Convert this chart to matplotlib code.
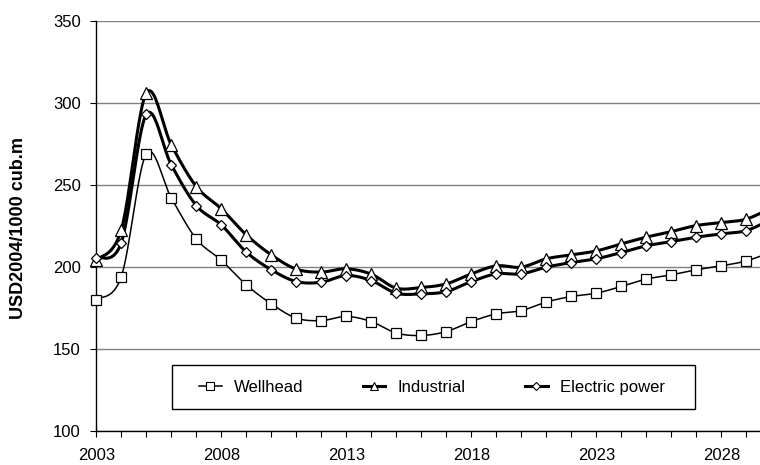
import numpy as np
import matplotlib
matplotlib.use("Agg")
import matplotlib.pyplot as plt
from matplotlib.patches import Rectangle
from matplotlib.lines import Line2D

plt.rcParams['font.family'] = ['Liberation Sans', 'DejaVu Sans']

years = list(range(2003, 2031))
wellhead = [180, 194, 269, 242, 217, 204, 189, 177.4, 168.7, 167.2, 169.7, 166.6, 159.6, 158.1,
            160.5, 166.6, 171.3, 173.3, 178.5, 181.9, 183.9, 188, 192.5, 195.1, 198.2, 200.6, 203.6, 209]
industrial = [204, 222.6, 306, 274.4, 249, 235.4, 219.5, 207.3, 198.6, 196.8, 198.8, 195.5, 187, 187.4,
              189.6, 195.7, 200.6, 199.8, 204.9, 207.3, 209.7, 214, 218.1, 221.5, 225.2, 227, 229.1, 236]
electric = [205.5, 214.8, 293, 262.2, 237.4, 225.6, 209, 198.2, 191, 190.6, 194.7, 191.6, 183.9, 183.5,
            184.9, 191, 195.7, 195.7, 199.8, 202.6, 204.9, 208.7, 212.8, 215.4, 218.1, 220.1, 222.1, 229]
labels = ["Wellhead", "Industrial", "Electric power"]
y_label = "USD2004/1000 cub.m"
xtick_labels = [2003, 2008, 2013, 2018, 2023, 2028]
yticks = [100, 150, 200, 250, 300, 350]


def smooth(x, y, n=24):
    # Catmull-Rom smoothing (Excel "smoothed line" look)
    x = np.asarray(x, float)
    y = np.asarray(y, float)
    px = np.concatenate([[x[0]], x, [x[-1]]])
    py = np.concatenate([[y[0]], y, [y[-1]]])
    xs, ys = [], []
    t = np.linspace(0, 1, n, endpoint=False)
    for i in range(1, len(px) - 2):
        p0, p1, p2, p3 = (np.array([px[j], py[j]]) for j in (i - 1, i, i + 1, i + 2))
        c1 = p1 + (p2 - p0) / 6.0
        c2 = p2 - (p3 - p1) / 6.0
        b = ((1 - t) ** 3)[:, None] * p1 + (3 * (1 - t) ** 2 * t)[:, None] * c1 + \
            (3 * (1 - t) * t ** 2)[:, None] * c2 + (t ** 3)[:, None] * p2
        xs.extend(b[:, 0]); ys.extend(b[:, 1])
    xs.append(x[-1]); ys.append(y[-1])
    return np.array(xs), np.array(ys)


fig = plt.figure(figsize=(7.6, 4.65), dpi=100)
ax = fig.add_axes([96.3 / 760, 1 - 430.7 / 465, 1 - 96.3 / 760, 409.7 / 465])

styles = [
    dict(series=wellhead, marker='s', lw=1.1, ms=7, color='black'),
    dict(series=industrial, marker='^', lw=2.2, ms=8, color='black'),
    dict(series=electric, marker='D', lw=2.2, ms=5.5, color='black'),
]
handles = []
for st, lab in zip(styles, labels):
    sx, sy = smooth(years, st['series'])
    ax.plot(sx, sy, color=st['color'], lw=st['lw'], zorder=3, clip_on=True)
    ax.plot(years, st['series'], linestyle='none', marker=st['marker'], ms=st['ms'],
            mfc='white', mec='black', mew=0.9, zorder=4, clip_on=False)
    handles.append(Line2D([], [], color='black', lw=st['lw'], marker=st['marker'],
                          ms=st['ms'] * 0.75, mfc='white', mec='black', mew=0.8))

ax.set_xlim(2003, 2003 + 663.7 / 25)
ax.set_ylim(100, 350)
ax.set_yticks(yticks)
ax.set_xticks(xtick_labels)
ax.set_xticklabels([str(v) for v in xtick_labels])
ax.set_xticks(range(2003, 2030), minor=True)
ax.tick_params(axis='both', which='both', direction='out', length=4.3, width=0.8,
               labelsize=12, color='black')
ax.tick_params(axis='y', pad=7)
ax.tick_params(axis='x', pad=8)
for sp in ['top', 'right']:
    ax.spines[sp].set_visible(False)
for sp in ['left', 'bottom']:
    ax.spines[sp].set_linewidth(1.0)
    ax.spines[sp].set_color('black')
ax.yaxis.grid(True, color='#808080', lw=1.0)
ax.set_axisbelow(True)

ax.set_ylabel(y_label, fontsize=13, fontweight='bold')
ax.yaxis.set_label_coords(-(96.3 - 27.5) / 663.7, (430.7 - 228) / 409.7)

# legend box
x0, x1 = (172 - 96.3) / 663.7, (695 - 96.3) / 663.7
y0, y1 = (430.7 - 409) / 409.7, (430.7 - 365) / 409.7
ax.add_patch(Rectangle((x0, y0), x1 - x0, y1 - y0, transform=ax.transAxes,
                       facecolor='white', edgecolor='black', lw=1.0, zorder=5))
lx0 = (199 - 96.3) / 663.7
lx1 = (665 - 96.3) / 663.7
leg = ax.legend(handles, labels, ncol=3, mode='expand', frameon=False,
                bbox_to_anchor=(lx0, (y0 + y1) / 2 - 0.02, lx1 - lx0, 0.04),
                loc='center', borderpad=0, borderaxespad=0, fontsize=12,
                handlelength=1.35, handletextpad=0.75)
leg.set_zorder(6)

fig.savefig("out.png", dpi=100)
